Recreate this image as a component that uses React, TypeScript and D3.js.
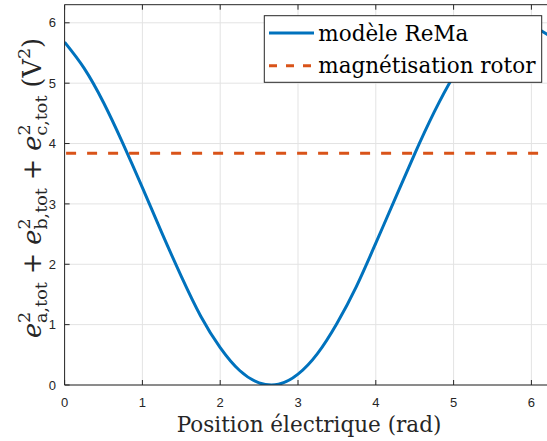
import React from "react";
import * as d3 from "d3";

const W = 547;
const H = 441;

const xPos = [0, 0.25, 0.5, 0.75, 1.0, 1.25, 1.5, 1.75, 2.0, 2.25, 2.5, 2.75, 3.0, 3.25, 3.5, 3.75, 4.0, 4.25, 4.5, 4.75, 5.0, 5.25, 5.5, 5.75, 6.0, 6.25, 6.5];
const reMa = [5.68, 5.25, 4.68, 4.0, 3.27, 2.52, 1.8, 1.14, 0.62, 0.24, 0.036, 0.012, 0.18, 0.52, 1.02, 1.63, 2.35, 3.09, 3.83, 4.52, 5.12, 5.59, 5.9, 6.02, 5.95, 5.76, 5.4];
const rotorLevel = 3.84;
const xTicks = [0, 1, 2, 3, 4, 5, 6];
const yTicks = [0, 1, 2, 3, 4, 5, 6];
const legendLabels = ["modèle ReMa", "magnétisation rotor"];
const xLabel = "Position électrique (rad)";

const left = 64.6;
const top = 4.7;
const bottom = 385;
const xMax = 2 * Math.PI;
const yMax = 6.3;
const right = left + xMax * 77.8;

const AX = "#262626";
const GRID = "#e3e3e3";
const BLUE = "#0072BD";
const ORANGE = "#D95319";
const SERIF = "'DejaVu Serif', serif";
const SANS = "'Liberation Sans', Arial, sans-serif";

export default function App() {
  const x = d3.scaleLinear().domain([0, xMax]).range([left, right]);
  const y = d3.scaleLinear().domain([0, yMax]).range([bottom, top]);
  const line = d3
    .line<number>()
    .x((_, i) => x(xPos[i]))
    .y((d) => y(d))
    .curve(d3.curveNatural);

  const mainSize = 21.5;
  const labSize = 25.5;
  const subSize = 17.5;
  const supW = 0.636 * subSize;

  const term = (letter: string, key: string) => [
    <tspan key={key + "e"} fontStyle="italic">e</tspan>,
    <tspan key={key + "2"} fontSize={subSize} dy={-11}>2</tspan>,
    <tspan key={key + "s"} fontSize={subSize} dx={-supW} dy={17}>{letter},tot</tspan>,
  ];

  return (
    <svg
      width={W}
      height={H}
      style={{ position: "absolute", left: 0, top: 0, background: "#fff" }}
    >
      <defs>
        <clipPath id="plotclip">
          <rect x={left} y={top} width={right - left} height={bottom - top} />
        </clipPath>
      </defs>
      <rect x={0} y={0} width={W} height={H} fill="#fff" />
      {/* grid */}
      {xTicks.map((t) => (
        <line key={"gx" + t} x1={x(t)} x2={x(t)} y1={top} y2={bottom} stroke={GRID} strokeWidth={1} />
      ))}
      {yTicks.map((t) => (
        <line key={"gy" + t} x1={left} x2={right} y1={y(t)} y2={y(t)} stroke={GRID} strokeWidth={1} />
      ))}
      {/* data */}
      <g clipPath="url(#plotclip)">
        <path d={line(reMa) || ""} fill="none" stroke={BLUE} strokeWidth={3} />
        <line
          x1={x(0)}
          x2={x(xMax)}
          y1={y(rotorLevel)}
          y2={y(rotorLevel)}
          stroke={ORANGE}
          strokeWidth={3}
          strokeDasharray="10 11"
          strokeDashoffset={-1.5}
        />
      </g>
      {/* axes */}
      <line x1={left} x2={right} y1={bottom} y2={bottom} stroke={AX} strokeWidth={1} />
      <line x1={left} x2={right} y1={top} y2={top} stroke={AX} strokeWidth={1} />
      <line x1={left} x2={left} y1={top} y2={bottom} stroke={AX} strokeWidth={1} />
      <line x1={right} x2={right} y1={top} y2={bottom} stroke={AX} strokeWidth={1} />
      {xTicks.map((t) => (
        <g key={"tx" + t}>
          <line x1={x(t)} x2={x(t)} y1={bottom} y2={bottom - 5} stroke={AX} />
          <line x1={x(t)} x2={x(t)} y1={top} y2={top + 5} stroke={AX} />
          <text x={x(t)} y={406.5} textAnchor="middle" fontFamily={SANS} fontSize={13} fill={AX}>
            {t}
          </text>
        </g>
      ))}
      {yTicks.map((t) => (
        <g key={"ty" + t}>
          <line x1={left} x2={left + 5} y1={y(t)} y2={y(t)} stroke={AX} />
          <text x={56} y={y(t) + 4.6} textAnchor="end" fontFamily={SANS} fontSize={13} fill={AX}>
            {t}
          </text>
        </g>
      ))}
      {/* x label */}
      <text x={(left + right) / 2} y={432} textAnchor="middle" fontFamily={SERIF} fontSize={mainSize} fill={AX}>
        {xLabel}
      </text>
      {/* y label */}
      <text
        transform={`translate(41, 188) rotate(-90)`}
        textAnchor="middle"
        fontFamily={SERIF}
        fontSize={labSize}
        fill={AX}
      >
        {term("a", "a")}
        <tspan dy={-6}>{" + "}</tspan>
        {term("b", "b")}
        <tspan dy={-6}>{" + "}</tspan>
        {term("c", "c")}
        <tspan dy={-6}>{"  (V"}</tspan>
        <tspan fontSize={subSize} dy={-11}>2</tspan>
        <tspan dy={11}>)</tspan>
      </text>
      {/* legend */}
      <rect x={264.3} y={15.7} width={277.4} height={66.6} fill="#fff" stroke={AX} strokeWidth={1} />
      <line x1={269} x2={314} y1={33} y2={33} stroke={BLUE} strokeWidth={3} />
      <line x1={269} x2={314} y1={65.7} y2={65.7} stroke={ORANGE} strokeWidth={3} strokeDasharray="8 9" />
      <text x={318.3} y={40.7} fontFamily={SERIF} fontSize={mainSize} fill="#000">
        {legendLabels[0]}
      </text>
      <text x={318.3} y={72.5} fontFamily={SERIF} fontSize={mainSize} fill="#000">
        {legendLabels[1]}
      </text>
    </svg>
  );
}
